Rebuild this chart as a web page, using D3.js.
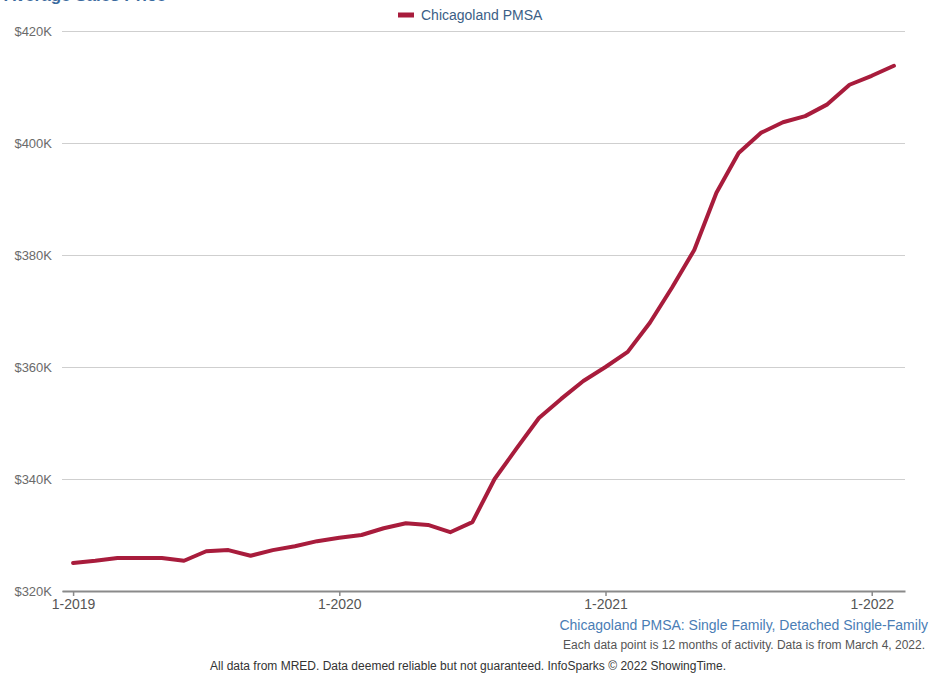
<!DOCTYPE html>
<html>
<head>
<meta charset="utf-8">
<script src="https://cdn.jsdelivr.net/npm/d3@7"></script>
<style>
  body { margin: 0; background: #fff; }
  text { font-family: "Liberation Sans", Arial, sans-serif; }
</style>
</head>
<body>
<div id="chart"></div>
<script>
// Data: average sales price, Chicagoland PMSA, rolling 12 months (in $K)
const months = ["1-2019","2-2019","3-2019","4-2019","5-2019","6-2019","7-2019","8-2019","9-2019","10-2019","11-2019","12-2019",
                "1-2020","2-2020","3-2020","4-2020","5-2020","6-2020","7-2020","8-2020","9-2020","10-2020","11-2020","12-2020",
                "1-2021","2-2021","3-2021","4-2021","5-2021","6-2021","7-2021","8-2021","9-2021","10-2021","11-2021","12-2021",
                "1-2022","2-2022"];
const prices = [325.0, 325.4, 325.9, 325.9, 325.9, 325.4, 327.1, 327.3, 326.3, 327.3, 328.0, 328.9,
                329.5, 330.0, 331.2, 332.1, 331.8, 330.5, 332.3, 340.0, 345.5, 350.9, 354.3, 357.5,
                360.0, 362.7, 367.9, 374.2, 380.9, 391.1, 398.2, 401.8, 403.7, 404.8, 406.9, 410.4,
                412.0, 413.8];
const yTicks = [320, 340, 360, 380, 400, 420];
const xTickIdx = [0, 12, 24, 36];
const seriesName = "Chicagoland PMSA";

const width = 942, height = 675;
const margin = { top: 31, bottom: 84, left: 62, right: 37 };

const svg = d3.select("#chart")
  .append("svg")
  .attr("width", width)
  .attr("height", height);

const xScale = d3.scaleLinear()
  .domain([-0.5, prices.length - 0.5])
  .range([margin.left, width - margin.right]);

const yScale = d3.scaleLinear()
  .domain([320, 420])
  .range([height - margin.bottom, margin.top]);

// title (scrolled mostly off the top in the original)
svg.append("text")
  .attr("x", 4)
  .attr("y", 1)
  .text("Average Sales Price")
  .style("font-size", "17px")
  .style("font-weight", "bold")
  .style("fill", "#3b6a9e");

// gridlines + y labels
const yAxis = svg.append("g")
  .attr("transform", `translate(${margin.left},0)`)
  .call(d3.axisLeft(yScale)
    .tickValues(yTicks)
    .tickSize(-(width - margin.left - margin.right))
    .tickPadding(10)
    .tickFormat(d => "$" + d + "K"));
yAxis.select(".domain").remove();
yAxis.selectAll(".tick line").attr("stroke", "#cfcfcf").attr("stroke-width", 1);
yAxis.selectAll(".tick text")
  .style("font-size", "13px")
  .style("fill", "#6a6a6a");

// x axis
const xAxis = svg.append("g")
  .attr("transform", `translate(0,${height - margin.bottom})`)
  .call(d3.axisBottom(xScale)
    .tickValues(xTickIdx)
    .tickSize(5)
    .tickSizeOuter(0)
    .tickPadding(3)
    .tickFormat(i => months[i]));
xAxis.select(".domain").attr("stroke", "#8a8a8a").attr("stroke-width", 2);
xAxis.selectAll(".tick line").attr("stroke", "#8a8a8a").attr("stroke-width", 1.5);
xAxis.selectAll(".tick text")
  .style("font-size", "14px")
  .style("fill", "#555");

// series line
const line = d3.line()
  .x((d, i) => xScale(i))
  .y(d => yScale(d));

svg.append("path")
  .datum(prices)
  .attr("d", line)
  .attr("fill", "none")
  .attr("stroke", "#a81c3c")
  .attr("stroke-width", 4)
  .attr("stroke-linejoin", "round")
  .attr("stroke-linecap", "round");

// legend
const legend = svg.append("g").attr("transform", "translate(398,15)");
legend.append("rect")
  .attr("x", 0).attr("y", -2.5)
  .attr("width", 16).attr("height", 5)
  .attr("fill", "#a81c3c");
legend.append("text")
  .attr("x", 23)
  .attr("dy", "0.35em")
  .text(seriesName)
  .style("font-size", "14px")
  .style("fill", "#3b5e86");

// footer notes
svg.append("text")
  .attr("x", 928).attr("y", 630)
  .text("Chicagoland PMSA: Single Family, Detached Single-Family")
  .style("text-anchor", "end")
  .style("font-size", "14px")
  .style("fill", "#4a7db5");

svg.append("text")
  .attr("x", 925).attr("y", 649)
  .text("Each data point is 12 months of activity. Data is from March 4, 2022.")
  .style("text-anchor", "end")
  .style("font-size", "12px")
  .style("fill", "#555");

svg.append("text")
  .attr("x", 468).attr("y", 670)
  .text("All data from MRED. Data deemed reliable but not guaranteed. InfoSparks \u00a9 2022 ShowingTime.")
  .style("text-anchor", "middle")
  .style("font-size", "12px")
  .style("fill", "#333");
</script>
</body>
</html>
